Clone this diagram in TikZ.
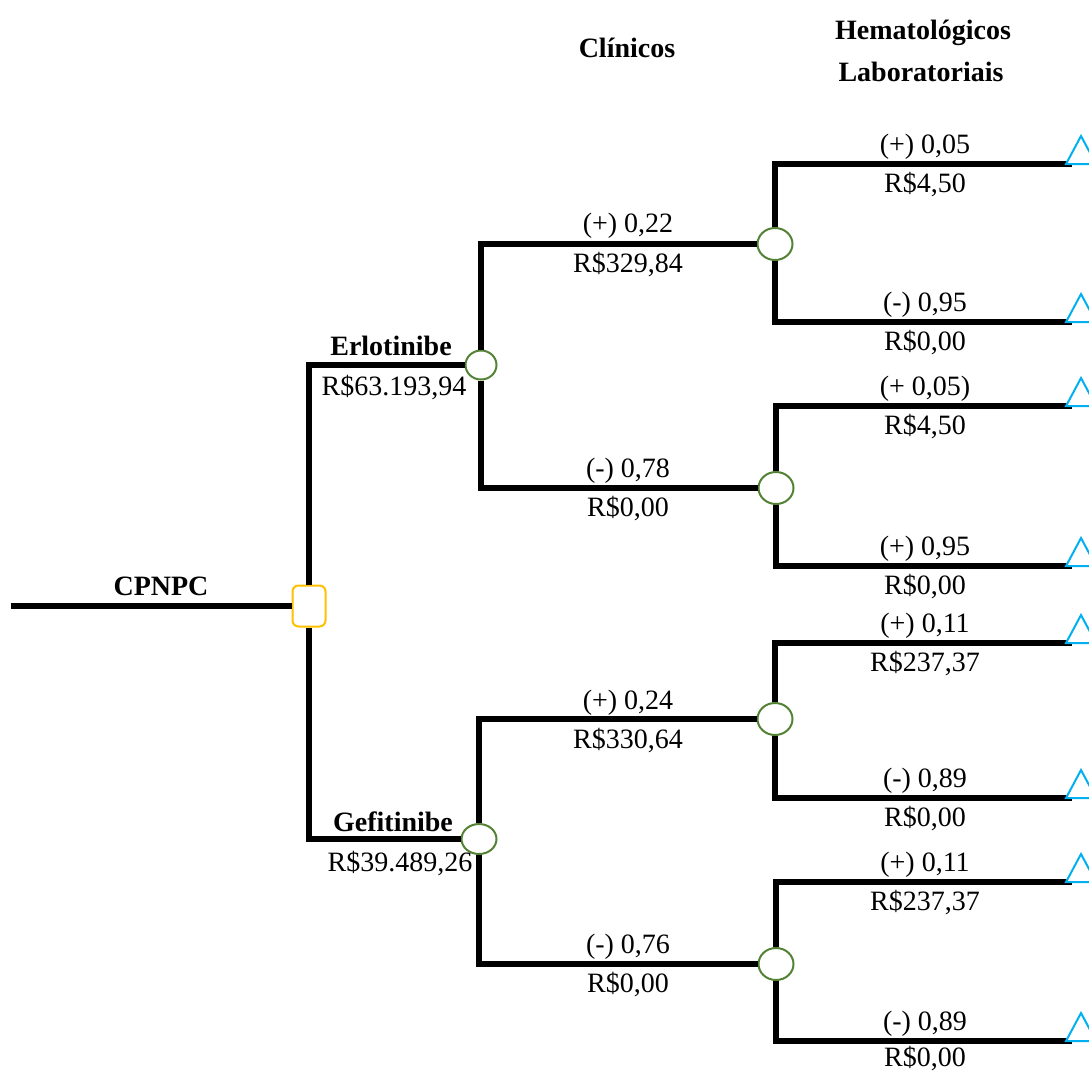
\documentclass[tikz,border=0pt]{standalone}
\usepackage{fontspec}
\setmainfont{Liberation Serif}
\usetikzlibrary{shapes.geometric}
\definecolor{decc}{HTML}{FFC000}
\definecolor{chc}{HTML}{548235}
\definecolor{trc}{HTML}{00B0F0}
\begin{document}
\begin{tikzpicture}[x=1pt,y=-1pt,
  branch/.style={line width=5.5pt, black, line join=miter},
  decision/.style={draw=decc, line width=2pt, fill=white, rounded corners=6pt, minimum width=33pt, minimum height=41pt, inner sep=0pt},
  chance/.style={draw=chc, line width=2pt, fill=white, ellipse, minimum width=35pt, minimum height=32pt, inner sep=0pt},
  term/.style={draw=trc, line width=2pt, fill=white, line join=miter},
  lbl/.style={anchor=base, inner sep=0pt, font=\fontsize{28}{30}\selectfont},
  blbl/.style={anchor=base, inner sep=0pt, font=\fontsize{28}{30}\selectfont\bfseries}]
\useasboundingbox (0,0) rectangle (1089,1072);

% headers
\node[blbl] (hcl) at (627,57) {Clínicos};
\node[blbl] (hhe) at (923,39) {Hematológicos};
\node[blbl] (hla) at (921,81) {Laboratoriais};

% nodes
\coordinate (root) at (11,606);
\node[decision] (dec) at (309,606) {};
\node[chance, minimum width=31pt, minimum height=29pt] (c1) at (481,365) {};
\node[chance, minimum width=35pt, minimum height=30pt] (c2) at (479,839) {};
\node[chance] (c11) at (775,244) {};
\node[chance] (c12) at (776,488) {};
\node[chance] (c21) at (775,719) {};
\node[chance] (c22) at (776,964) {};

\coordinate (t111) at (1072,164);
\coordinate (t112) at (1072,322);
\coordinate (t121) at (1072,406);
\coordinate (t122) at (1072,566);
\coordinate (t211) at (1072,643);
\coordinate (t212) at (1072,798);
\coordinate (t221) at (1072,882);
\coordinate (t222) at (1072,1041);

% connectors
\draw[branch] (root) -- (dec.west);
\draw[branch] (dec.north) |- (c1.west);
\draw[branch] (dec.south) |- (c2.west);
\draw[branch] (c1.north) |- (c11.west);
\draw[branch] (c1.south) |- (c12.west);
\draw[branch] (c2.north) |- (c21.west);
\draw[branch] (c2.south) |- (c22.west);
\draw[branch] (c11.north) |- (t111);
\draw[branch] (c11.south) |- (t112);
\draw[branch] (c12.north) |- (t121);
\draw[branch] (c12.south) |- (t122);
\draw[branch] (c21.north) |- (t211);
\draw[branch] (c21.south) |- (t212);
\draw[branch] (c22.north) |- (t221);
\draw[branch] (c22.south) |- (t222);

% terminal triangles
\foreach \t in {t111,t112,t121,t122,t211,t212,t221,t222}
  \draw[term] (\t) ++(-6,0) -- ++(15,-28) -- ++(15,28) -- cycle;

% labels
\node[blbl] (lcp) at (161,595) {CPNPC};
\node[blbl] (ler) at (391,355) {Erlotinibe};
\node[lbl]  (ler2) at (394,395) {R\$63.193,94};
\node[blbl] (lge) at (393,831) {Gefitinibe};
\node[lbl]  (lge2) at (400,871) {R\$39.489,26};

\node[lbl] at (628,232) {(+) 0,22};
\node[lbl] at (628,272) {R\$329,84};
\node[lbl] at (628,477) {(-) 0,78};
\node[lbl] at (628,516) {R\$0,00};
\node[lbl] at (628,709) {(+) 0,24};
\node[lbl] at (628,748) {R\$330,64};
\node[lbl] at (628,953) {(-) 0,76};
\node[lbl] at (628,992) {R\$0,00};

\node[lbl] at (925,153) {(+) 0,05};
\node[lbl] at (925,192) {R\$4,50};
\node[lbl] at (925,311) {(-) 0,95};
\node[lbl] at (925,350) {R\$0,00};
\node[lbl] at (925,395) {(+ 0,05)};
\node[lbl] at (925,434) {R\$4,50};
\node[lbl] at (925,555) {(+) 0,95};
\node[lbl] at (925,594) {R\$0,00};
\node[lbl] at (925,632) {(+) 0,11};
\node[lbl] at (925,671) {R\$237,37};
\node[lbl] at (925,787) {(-) 0,89};
\node[lbl] at (925,826) {R\$0,00};
\node[lbl] at (925,871) {(+) 0,11};
\node[lbl] at (925,910) {R\$237,37};
\node[lbl] at (925,1030) {(-) 0,89};
\node[lbl] at (925,1066) {R\$0,00};
\end{tikzpicture}
\end{document}
